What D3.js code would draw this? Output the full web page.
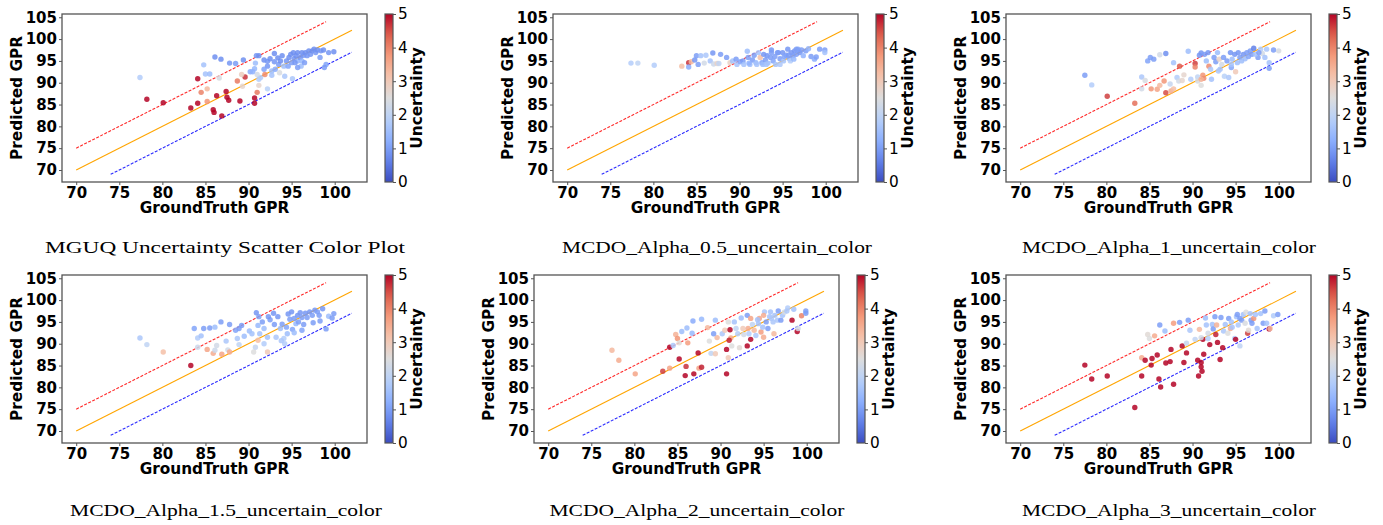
<!DOCTYPE html>
<html>
<head>
<meta charset="utf-8">
<script src="https://cdn.jsdelivr.net/npm/d3@7"></script>
<style>
  body { margin: 0; background: #fff; }
  .axis text { font-family: "DejaVu Sans"; font-weight: bold; font-size: 15px; fill: #000; }
  .axis line { stroke: #555; }
  .axis path { display: none; }
</style>
</head>
<body>
<svg id="chart" width="1383" height="525"></svg>
<script>
// ticks and labels
const xTicks = [70, 75, 80, 85, 90, 95, 100];
const yTicks = [70, 75, 80, 85, 90, 95, 100, 105];
const cbTicks = [0, 1, 2, 3, 4, 5];
const captions = [
  "MGUQ Uncertainty Scatter Color Plot",
  "MCDO_Alpha_0.5_uncertain_color",
  "MCDO_Alpha_1_uncertain_color",
  "MCDO_Alpha_1.5_uncertain_color",
  "MCDO_Alpha_2_uncertain_color",
  "MCDO_Alpha_3_uncertain_color"
];

// reference lines [groundTruth, predicted]
const upperLine = [[70, 75], [99, 104]];
const idealLine = [[70, 70], [102, 102]];
const lowerLine = [[74, 69], [102, 97]];

// points: [groundTruth, predicted, uncertainty]
const mguqPoints = [
  [77.4,91.2,1.8],[84.8,94.1,1.6],[85.0,92.0,1.6],[85.5,92.0,1.5],[86.1,95.9,0.8],[86.8,95.4,0.8],[87.8,94.5,0.9],
  [88.5,94.4,1.0],[89.4,95.2,0.8],[90.9,96.2,0.9],[91.2,96.2,0.8],[90.8,94.5,1.5],[90.7,93.2,1.4],[90.2,92.5,1.2],
  [90.5,92.5,1.3],[91.4,91.2,1.8],[91.0,91.9,2.3],[92.2,88.6,1.9],[91.8,95.2,0.8],[92.2,94.9,0.9],[92.5,95.5,0.8],
  [93.0,96.7,0.8],[93.0,94.8,0.9],[93.4,95.7,0.8],[93.5,94.2,1.0],[93.7,95.0,0.8],[93.9,96.2,0.8],[94.1,93.8,1.5],
  [92.7,92.7,1.5],[93.1,93.1,1.2],[92.7,91.7,1.6],[93.6,92.3,2.4],[94.2,91.5,1.7],[95.1,90.9,1.7],[94.4,95.0,0.9],
  [94.7,95.8,0.8],[94.9,96.5,0.8],[95.0,94.6,1.0],[95.2,96.9,0.8],[95.3,95.5,0.9],[95.5,96.2,0.8],[95.7,96.9,0.8],
  [95.7,95.0,1.3],[96.0,95.8,0.8],[96.2,95.0,1.4],[96.2,96.9,0.8],[96.4,96.3,0.9],[96.6,96.9,0.8],[96.8,96.2,0.9],
  [97.0,97.3,0.8],[97.2,96.5,0.9],[97.4,97.3,0.8],[97.6,97.7,0.8],[97.8,96.9,0.9],[98.0,97.5,0.8],[98.3,95.8,1.0],
  [98.4,97.3,0.9],[98.7,97.5,0.8],[99.0,94.2,1.1],[98.8,93.5,1.0],[99.3,96.9,0.9],[99.9,97.1,0.8],[96.1,93.8,1.5],
  [95.7,93.5,1.0],[94.6,93.8,1.1],[95.4,94.6,0.9],[96.5,94.6,1.0],[92.2,93.8,0.9],[91.8,93.1,1.1],[91.2,90.8,1.8],
  [78.2,86.2,5],[80.1,85.4,5],[84.1,90.9,5],[84.1,85.3,5],[83.3,84.2,5],[84.5,87.8,4.0],[85.2,88.6,3.3],
  [85.2,85.7,3.8],[86.3,87.0,5],[87.4,88.0,5],[87.5,86.7,5],[87.7,86.0,5],[85.9,83.8,5],[86.0,83.2,5],
  [86.9,82.4,5],[89.0,85.8,5],[88.7,90.4,4.1],[89.6,91.3,4.7],[89.2,91.9,2.9],[89.3,89.2,2.7],[86.6,91.1,2.4],
  [90.7,86.5,5],[90.7,85.3,5],[91.0,87.8,4.1],[91.9,91.9,3.9],[91.2,89.4,2.7]
];

const alpha05Points = [
  [77.4,94.5,1.8],[78.2,94.5,2.0],[80.1,94.0,1.8],[83.3,93.8,3.2],[84.1,94.6,4.7],[84.4,94.8,3.3],[84.1,93.6,1.2],
  [84.8,95.2,0.9],[85.0,96.2,1.0],[85.2,94.2,1.0],[85.5,96.2,1.6],[85.9,94.5,2.3],[86.1,96.3,1.7],[86.6,95.0,1.6],
  [86.9,96.8,0.9],[87.0,94.3,2.2],[87.4,94.4,2.8],[87.6,94.4,2.0],[87.8,96.5,1.0],[88.5,95.8,1.0],[88.9,94.6,2.8],
  [89.2,95.0,1.6],[89.6,95.4,1.0],[89.7,94.2,1.6],[90.1,94.8,1.1],[90.4,95.0,1.0],[90.9,97.2,1.5],[91.0,95.8,1.0],
  [91.2,94.2,1.5],[91.5,95.2,1.0],[91.7,96.3,1.0],[91.9,94.6,1.4],[92.2,96.9,1.6],[92.4,95.8,3.2],[92.6,94.6,1.1],
  [92.8,96.5,0.9],[93.0,95.2,1.0],[93.2,96.2,0.9],[93.3,94.5,1.5],[93.6,95.8,1.0],[93.7,97.5,0.9],[93.9,95.0,1.1],
  [94.1,96.0,1.0],[94.2,94.2,1.6],[94.5,96.9,0.9],[94.7,95.5,1.0],[95.0,96.9,0.9],[95.1,95.0,1.6],[95.4,96.3,1.0],
  [95.6,97.7,0.9],[95.8,95.5,1.2],[96.0,96.9,0.9],[96.2,96.2,1.0],[96.4,97.3,0.9],[96.6,96.5,1.0],[96.8,97.7,1.2],
  [97.0,96.9,0.9],[97.2,97.5,1.0],[97.4,96.2,1.3],[97.7,97.3,1.0],[98.0,97.8,1.3],[98.3,96.0,1.0],[98.7,95.4,1.2],
  [98.9,95.9,1.0],[99.3,97.7,1.0],[99.9,97.5,1.0],[99.9,96.9,1.6],[90.5,94.2,1.6],[91.1,94.5,1.3],[92.0,94.2,1.6],
  [92.7,94.2,1.5],[94.4,96.9,1.0],[95.2,96.0,1.1],[95.9,95.0,1.8],[95.7,96.3,1.0],[96.3,95.4,1.4],[96.6,97.7,1.0],
  [94.7,94.2,1.7],[93.7,96.9,1.0],[93.1,94.2,1.6]
];

const alpha1Points = [
  [77.5,91.7,1.0],[78.3,89.5,1.8],[80.1,86.9,4.6],[83.3,85.3,4.2],[84.1,91.3,1.7],[84.5,90.5,2.4],[84.1,88.6,2.3],
  [84.8,95.0,1.1],[85.1,95.8,1.0],[85.5,95.4,1.0],[85.2,88.6,3.8],[85.9,88.5,3.6],[86.2,96.4,2.3],[86.2,89.4,3.3],
  [86.7,90.4,3.8],[86.9,96.7,0.8],[86.9,87.7,4.5],[87.5,88.1,3.5],[87.8,88.6,3.2],[87.4,89.7,2.1],[87.8,94.6,1.6],
  [88.5,93.8,4.4],[88.2,91.2,1.8],[88.4,90.4,2.3],[88.8,90.5,2.7],[89.0,91.8,2.7],[89.5,97.2,1.5],[89.8,90.8,1.8],
  [90.3,94.4,4.6],[90.3,93.6,4.0],[90.6,91.3,2.0],[90.6,90.4,2.4],[91.0,89.4,2.5],[91.2,91.7,3.8],[91.3,91.0,3.9],
  [91.0,90.8,3.4],[90.8,96.3,0.9],[91.0,96.8,0.9],[91.4,96.5,1.0],[91.8,96.9,0.9],[91.9,93.8,3.9],[91.6,95.0,1.5],
  [92.1,93.1,1.7],[92.2,90.8,1.6],[92.5,95.8,1.0],[92.7,94.8,1.0],[92.9,96.9,1.5],[93.1,95.4,2.8],[93.2,93.1,1.6],
  [93.4,94.2,2.3],[93.6,95.8,1.0],[93.7,91.5,1.9],[94.0,95.0,1.0],[94.2,91.2,1.7],[94.4,96.9,0.9],[94.5,93.5,1.1],
  [94.6,95.4,1.5],[94.9,96.5,0.9],[95.0,92.5,3.0],[95.2,94.6,1.5],[95.3,96.9,0.9],[95.5,95.8,1.0],[95.7,95.0,1.5],
  [95.9,96.5,0.9],[96.1,95.5,1.5],[96.3,96.9,1.0],[96.5,96.0,1.1],[96.7,97.3,1.0],[96.9,96.5,1.0],[97.1,97.9,0.6],
  [97.6,95.8,1.0],[97.9,97.7,1.8],[98.1,96.7,2.3],[98.4,95.8,1.6],[98.6,97.7,1.7],[98.9,94.6,1.6],[98.9,93.3,1.0],
  [99.4,97.5,1.0],[100.0,97.3,2.4],[97.3,96.5,1.6],[97.7,96.9,1.0],[94.5,94.2,1.6],[93.0,92.7,1.7]
];

const alpha15Points = [
  [77.4,91.3,1.7],[78.2,89.8,2.0],[80.1,88.1,3.2],[83.3,85.0,5],[84.1,91.3,1.8],[84.5,91.8,1.6],[84.1,89.2,2.2],
  [85.2,88.7,3.6],[83.7,93.5,1.1],[84.8,93.5,1.0],[85.5,93.6,1.0],[86.1,93.8,1.5],[85.9,87.8,3.5],[86.1,88.5,2.2],
  [86.3,89.6,2.3],[86.8,95.0,1.0],[86.9,87.6,3.6],[87.4,90.6,1.7],[87.6,88.6,2.3],[87.8,88.1,3.5],[87.8,94.4,1.0],
  [88.5,93.1,1.1],[88.7,91.2,1.7],[88.9,89.8,2.0],[89.2,94.2,1.0],[89.5,91.7,1.5],[90.1,92.9,1.5],[90.4,92.3,1.6],
  [90.6,88.1,2.5],[90.8,89.2,2.1],[91.1,90.8,3.2],[90.9,97.1,0.9],[91.2,96.2,1.0],[91.1,94.2,1.4],[91.3,92.3,1.6],
  [91.6,95.0,1.0],[91.8,93.5,1.5],[92.2,88.1,3.0],[92.2,91.5,1.6],[92.5,95.5,1.0],[92.9,97.0,0.9],[93.0,94.4,1.0],
  [93.2,91.5,1.7],[93.4,96.2,0.9],[93.7,93.5,1.5],[93.9,94.5,1.0],[94.1,91.2,1.8],[94.2,90.0,1.8],[94.4,93.8,1.1],
  [94.6,96.8,0.9],[94.8,95.6,1.0],[95.0,97.3,0.9],[95.1,93.3,1.1],[95.3,95.8,1.0],[95.5,94.6,1.4],[95.7,96.5,0.9],
  [95.8,95.0,1.0],[96.0,97.1,0.9],[96.2,96.0,1.0],[96.4,94.4,1.0],[96.6,97.0,0.9],[96.8,96.0,1.0],[97.1,97.3,0.9],
  [97.4,96.5,1.0],[97.5,94.8,1.0],[97.7,97.7,0.9],[98.0,97.3,1.0],[98.2,96.5,1.0],[98.3,95.2,1.0],[98.6,98.0,0.9],
  [99.0,93.4,1.0],[99.3,96.3,1.5],[99.9,96.9,1.0],[99.7,95.9,1.0],[96.2,93.1,1.1],[95.3,92.5,1.5],[93.8,90.7,1.7],
  [94.5,92.3,1.5],[91.8,90.0,1.8],[88.9,93.5,1.0],[92.3,96.2,0.9]
];

const alpha2Points = [
  [77.4,88.5,3.3],[78.2,86.2,3.5],[80.1,83.1,3.6],[83.3,83.7,4.6],[84.1,84.4,3.6],[84.1,89.2,5],[84.5,89.6,1.7],
  [84.8,92.1,3.4],[85.0,91.2,3.8],[85.2,86.5,5],[85.2,90.2,2.6],[85.5,92.8,1.5],[86.1,93.6,1.5],[86.2,90.2,3.7],
  [86.0,84.8,4.7],[85.9,82.7,5],[86.7,92.4,1.4],[86.8,95.2,1.2],[86.9,83.1,5],[87.4,87.9,5],[87.5,84.4,3.6],
  [87.8,84.6,4.8],[87.8,95.6,1.4],[88.5,93.7,3.3],[88.7,90.6,2.5],[88.9,87.8,2.0],[89.4,87.7,3.0],[89.4,95.4,1.5],
  [89.6,91.4,3.3],[89.2,92.3,1.0],[90.2,92.3,1.7],[90.5,93.1,3.0],[90.7,88.7,5],[90.7,83.1,5],[90.9,86.8,3.0],
  [90.9,95.0,2.5],[91.1,93.2,5],[91.2,91.3,3.5],[91.0,90.8,4.8],[91.3,89.5,2.5],[91.6,95.0,1.6],[91.8,93.5,2.0],
  [92.0,92.3,1.8],[92.2,89.1,2.6],[92.4,95.9,1.5],[92.6,93.5,3.0],[92.7,92.1,2.3],[93.1,96.5,1.0],[93.1,89.5,5],
  [93.2,93.5,3.5],[93.5,95.8,3.6],[93.5,91.0,5],[93.7,94.4,2.0],[93.9,93.1,3.3],[94.1,91.9,1.7],[94.4,94.6,1.6],
  [94.5,95.8,3.6],[94.7,92.7,3.7],[94.9,93.8,1.6],[95.0,91.5,3.5],[95.1,97.3,1.7],[95.0,96.5,3.5],[95.3,95.0,1.0],
  [95.5,93.5,1.0],[95.7,96.2,1.6],[95.8,97.3,1.6],[96.1,95.0,1.7],[96.2,92.3,3.3],[96.3,96.5,1.6],[96.6,95.4,1.7],
  [96.7,97.5,1.0],[97.0,95.4,1.0],[97.2,96.5,1.6],[97.4,97.2,2.3],[97.8,98.2,1.8],[98.3,95.4,5],[98.5,97.9,1.6],
  [98.9,92.8,5],[99.0,93.5,2.3],[99.4,96.4,4.0],[99.9,97.5,1.0],[99.9,97.0,1.0],[94.3,95.5,1.6],[95.9,95.8,1.7],
  [97.7,97.5,1.7],[93.3,92.3,1.8]
];

const alpha3Points = [
  [77.5,85.1,5],[78.3,81.9,5],[80.1,82.6,5],[83.3,75.4,5],[84.1,86.8,3.5],[84.1,82.6,5],[84.5,86.2,5],
  [84.8,92.1,2.6],[85.0,91.2,2.5],[85.2,85.1,5],[85.3,86.6,5],[85.6,91.8,3.5],[85.9,87.4,5],[86.2,94.3,1.0],
  [86.1,81.9,5],[86.3,80.1,5],[86.8,92.9,1.5],[86.9,85.6,5],[87.4,85.9,5],[87.5,88.7,5],[87.8,80.7,5],
  [87.8,94.7,3.7],[88.5,94.9,1.0],[88.8,89.5,5],[89.0,85.7,5],[89.3,87.9,5],[89.5,95.4,1.0],[89.3,90.1,2.1],
  [89.7,93.1,1.7],[90.3,91.0,2.0],[90.6,86.2,5],[90.7,82.6,5],[90.8,93.3,3.3],[91.0,85.7,5],[91.0,84.7,5],
  [91.1,83.7,5],[91.2,91.0,5],[91.3,87.6,5],[91.0,91.4,2.3],[91.5,95.9,1.5],[91.6,94.3,1.6],[91.8,92.4,2.3],
  [92.0,89.8,5],[91.8,91.2,1.8],[92.3,94.4,1.6],[92.4,93.4,1.0],[92.6,96.2,1.0],[92.7,92.1,4.8],[92.9,90.3,5],
  [92.8,94.3,3.4],[93.2,86.4,5],[93.3,96.0,1.0],[93.5,89.1,5],[93.6,92.9,1.7],[93.8,94.4,1.6],[94.1,92.4,2.5],
  [94.2,95.8,1.0],[94.4,93.5,3.5],[94.5,95.0,1.6],[94.9,91.2,1.8],[95.0,91.0,5],[95.1,96.2,1.6],[95.2,96.7,1.0],
  [95.3,94.3,1.7],[95.5,89.5,2.0],[95.7,95.4,1.0],[95.9,96.7,1.6],[96.1,94.7,2.4],[96.2,97.2,2.5],[96.4,92.4,4.6],
  [96.5,93.1,2.6],[96.7,96.9,1.6],[96.8,95.4,1.0],[97.1,95.8,3.8],[97.3,96.7,1.6],[97.5,93.5,1.6],[97.9,96.9,1.6],
  [98.2,94.7,1.0],[98.4,97.5,1.0],[98.6,94.7,1.6],[98.9,93.4,5],[99.0,93.5,3.3],[99.4,96.4,1.8],[99.9,96.7,1.0],
  [94.6,93.8,1.6],[95.5,95.8,1.0],[96.9,94.7,1.0]
];

const coolwarmStops = ["#3b4cc0", "#6282ea", "#8db0fe", "#b8d0f9", "#dddddd", "#f5c4ad", "#f49a7b", "#de604d", "#b40426"];

// panel placement on the page
const layout = [
  { points: mguqPoints,    left: 62,   top: 14,  cb: 385,  capX: 225,  capY: 253, capW: 360 },
  { points: alpha05Points, left: 553,  top: 14,  cb: 876,  capX: 717,  capY: 253, capW: 310 },
  { points: alpha1Points,  left: 1006, top: 14,  cb: 1329, capX: 1169, capY: 253, capW: 294 },
  { points: alpha15Points, left: 62,   top: 275, cb: 385,  capX: 226,  capY: 516, capW: 312 },
  { points: alpha2Points,  left: 534,  top: 275, cb: 857,  capX: 697,  capY: 516, capW: 295 },
  { points: alpha3Points,  left: 1006, top: 275, cb: 1329, capX: 1169, capY: 516, capW: 294 }
];
const plotW = 305, plotH = 168, cbW = 8;

const svg = d3.select("#chart");

// coolwarm colormap over 0..5
const color = d3.scaleLinear()
  .domain(coolwarmStops.map((c, i) => i * 5 / (coolwarmStops.length - 1)))
  .range(coolwarmStops)
  .interpolate(d3.interpolateRgb)
  .clamp(true);

const grad = svg.append("defs").append("linearGradient")
  .attr("id", "cwGrad")
  .attr("x1", 0).attr("y1", 1).attr("x2", 0).attr("y2", 0);
d3.range(0, 1.0001, 0.05).forEach(t => {
  grad.append("stop").attr("offset", t).attr("stop-color", color(t * 5));
});

layout.forEach((p, i) => drawPanel(p, captions[i]));

function drawPanel(p, caption) {
  const x = d3.scaleLinear().domain([68.35, 103.75]).range([p.left, p.left + plotW]);
  const y = d3.scaleLinear().domain([67.25, 105.75]).range([p.top + plotH, p.top]);
  const g = svg.append("g");

  g.append("g").attr("class", "axis")
    .attr("transform", `translate(0,${p.top + plotH})`)
    .call(d3.axisBottom(x).tickValues(xTicks).tickSize(3).tickPadding(2));
  g.append("g").attr("class", "axis")
    .attr("transform", `translate(${p.left},0)`)
    .call(d3.axisLeft(y).tickValues(yTicks).tickSize(3).tickPadding(2));

  const line = d3.line().x(d => x(d[0])).y(d => y(d[1]));
  g.append("path").datum(upperLine).attr("d", line)
    .attr("fill", "none").attr("stroke", "#ff2a2a").attr("stroke-width", 1.1)
    .attr("stroke-dasharray", "3,1.5");
  g.append("path").datum(idealLine).attr("d", line)
    .attr("fill", "none").attr("stroke", "#ffa500").attr("stroke-width", 1.1);
  g.append("path").datum(lowerLine).attr("d", line)
    .attr("fill", "none").attr("stroke", "#2a2aff").attr("stroke-width", 1.1)
    .attr("stroke-dasharray", "3,1.5");

  g.append("g").selectAll("circle")
    .data(p.points)
    .join("circle")
    .attr("cx", d => x(d[0]))
    .attr("cy", d => y(d[1]))
    .attr("r", 2.7)
    .attr("fill", d => color(d[2]))
    .attr("fill-opacity", 0.85);

  g.append("rect")
    .attr("x", p.left).attr("y", p.top)
    .attr("width", plotW).attr("height", plotH)
    .attr("fill", "none").attr("stroke", "#555").attr("stroke-width", 1.3);

  g.append("text")
    .attr("x", p.left + plotW / 2).attr("y", p.top + plotH + 31)
    .attr("text-anchor", "middle")
    .style("font-family", "DejaVu Sans").style("font-weight", "bold").style("font-size", "15.3px")
    .text("GroundTruth GPR");
  g.append("text")
    .attr("transform", `translate(${p.left - 40.5},${p.top + plotH / 2}) rotate(-90)`)
    .attr("text-anchor", "middle")
    .style("font-family", "DejaVu Sans").style("font-weight", "bold").style("font-size", "15.3px")
    .text("Predicted GPR");

  // colorbar
  const cy = d3.scaleLinear().domain([0, 5]).range([p.top + plotH, p.top]);
  g.append("rect")
    .attr("x", p.cb).attr("y", p.top).attr("width", cbW).attr("height", plotH)
    .attr("fill", "url(#cwGrad)").attr("stroke", "#555").attr("stroke-width", 1.2);
  const cbAxis = g.append("g")
    .attr("transform", `translate(${p.cb + cbW},0)`)
    .call(d3.axisRight(cy).tickValues(cbTicks).tickFormat(d3.format("d")).tickSize(3).tickPadding(2));
  cbAxis.select(".domain").remove();
  cbAxis.selectAll("line").attr("stroke", "#555");
  cbAxis.selectAll("text")
    .style("font-family", "DejaVu Sans").style("font-size", "15.3px").attr("fill", "#000");
  g.append("text")
    .attr("transform", `translate(${p.cb + 36.5},${p.top + plotH / 2}) rotate(-90)`)
    .attr("text-anchor", "middle")
    .style("font-family", "DejaVu Sans").style("font-weight", "bold").style("font-size", "15.3px")
    .text("Uncertainty");

  svg.append("text")
    .attr("x", p.capX).attr("y", p.capY)
    .attr("text-anchor", "middle")
    .attr("textLength", p.capW).attr("lengthAdjust", "spacingAndGlyphs")
    .style("font-family", "Liberation Serif").style("font-size", "17px")
    .text(caption);
}
</script>
</body>
</html>
